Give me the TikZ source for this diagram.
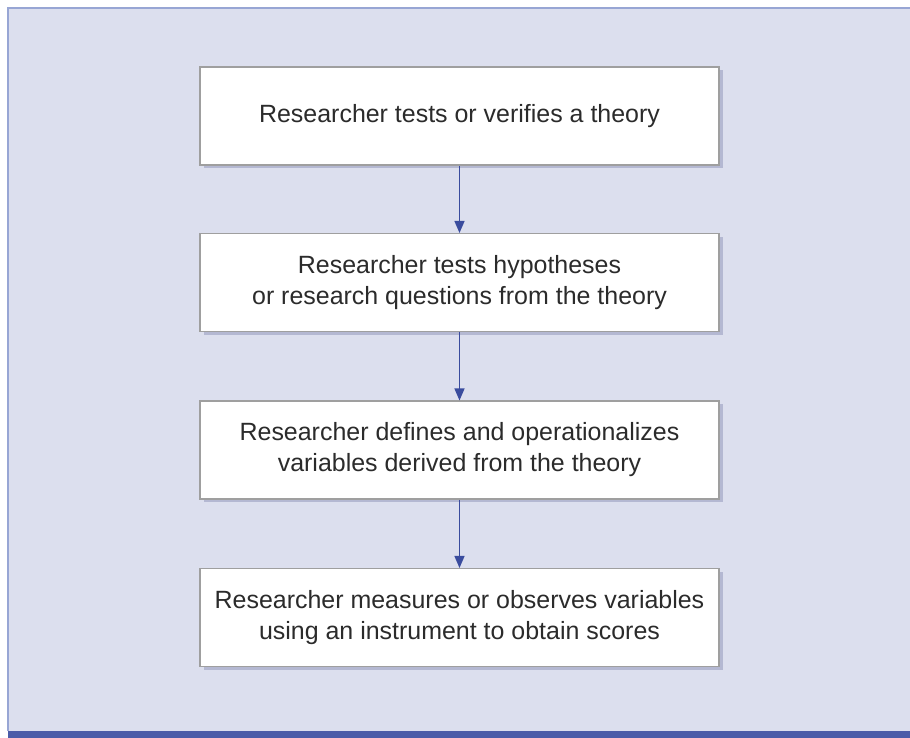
\documentclass[tikz,border=0pt]{standalone}
\usepackage{fontspec}
\setmainfont{Liberation Sans}
\usepackage{xcolor}
\usepackage{tikz}
\usetikzlibrary{arrows.meta,positioning,shadows}
\definecolor{researchPanel}{HTML}{DCDFEE}
\definecolor{researchEdge}{HTML}{98A6D4}
\definecolor{researchBar}{HTML}{4B5CA8}
\definecolor{researchArrow}{HTML}{3A4C9E}
\definecolor{researchShadow}{HTML}{B4B8D2}
\definecolor{researchInk}{HTML}{2B2B2B}
\tikzset{
  stepBox/.style={
    rectangle,
    draw=gray!75,
    fill=white,
    line width=0.6pt,
    minimum width=10.38cm,
    minimum height=1.96cm,
    align=center,
    text=researchInk,
    font=\fontsize{14.2}{17.6}\selectfont,
    drop shadow={shadow xshift=0.07cm,shadow yshift=-0.07cm,fill=researchShadow,opacity=1}
  },
  arrow/.style={
    -{Triangle[length=2.4mm,width=2mm]},
    line width=0.8pt,
    draw=researchArrow
  }
}
\begin{document}
\begin{tikzpicture}
  \useasboundingbox (0,0) rectangle (18.2,-14.76);
  \fill[researchPanel] (0.16,-0.16) rectangle (18.2,-14.62);
  \draw[researchEdge,line width=1pt] (0.16,-14.62) -- (0.16,-0.16) -- (18.2,-0.16);
  \fill[researchBar] (0.16,-14.62) rectangle (18.2,-14.76);
  \node[stepBox] (theory) at (9.19,-2.32) {Researcher tests or verifies a theory};
  \node[stepBox] (hypo) at (9.19,-5.65) {Researcher tests hypotheses\\or research questions from the theory};
  \node[stepBox] (define) at (9.19,-9.0) {Researcher defines and operationalizes\\variables derived from the theory};
  \node[stepBox] (measure) at (9.19,-12.35) {Researcher measures or observes variables\\using an instrument to obtain scores};
  \draw[arrow] (theory) -- (hypo);
  \draw[arrow] (hypo) -- (define);
  \draw[arrow] (define) -- (measure);
\end{tikzpicture}
\end{document}
